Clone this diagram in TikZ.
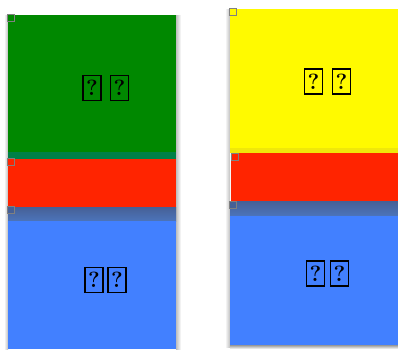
\documentclass[tikz,border=0pt]{standalone}
\usetikzlibrary{shadings}
\definecolor{cgreen}{RGB}{0,136,0}
\definecolor{cteal}{RGB}{0,128,72}
\definecolor{cred}{RGB}{255,36,0}
\definecolor{cblue}{RGB}{66,128,255}
\definecolor{cdarkA}{RGB}{70,96,150}
\definecolor{cdarkB}{RGB}{76,116,186}
\definecolor{cyellow}{RGB}{255,250,0}
\definecolor{clyellow}{RGB}{240,232,10}
\definecolor{cshadow}{RGB}{190,190,190}
\tikzset{
  tofu/.style={draw=black, line width=1.4pt, minimum width=18pt, minimum height=25pt, inner sep=0pt, font=\fontsize{22}{22}\selectfont\bfseries},
  handle/.style={draw=gray, line width=1.5pt, minimum size=7pt, inner sep=0pt},
}
\begin{document}
\begin{tikzpicture}[x=1pt,y=-1pt]
\useasboundingbox (0,0) rectangle (398,349);
% shadows
\shade[left color=white, right color=cshadow] (4,15) rectangle (8,349);
\shade[left color=cshadow, right color=white] (176,15) rectangle (181,349);
\shade[left color=white, right color=cshadow] (225,9) rectangle (230,347);
\shade[top color=cshadow!80!black, bottom color=white] (230,345) rectangle (398,349);
% left column
\fill[cgreen] (8,15) rectangle (176,152);
\fill[cteal] (8,152) rectangle (176,159);
\fill[cred] (8,159) rectangle (176,207);
\shade[top color=cdarkA, bottom color=cdarkB] (8,207) rectangle (176,221);
\fill[cblue] (8,221) rectangle (176,349);
% right column
\fill[cyellow] (230,9) rectangle (398,148);
\fill[clyellow] (230,148) rectangle (398,153);
\fill[cred] (231,153) rectangle (398,201);
\shade[top color=cdarkA, bottom color=cdarkB] (230,201) rectangle (398,216);
\fill[cblue] (230,216) rectangle (398,345);
% handles
\node[handle, fill=cgreen] (h1) at (11,18) {};
\node[handle, fill=cred] (h2) at (11,162) {};
\node[handle, fill=cdarkA] (h3) at (11,210) {};
\node[handle, fill=cyellow] (h4) at (233,12) {};
\node[handle, fill=cred] (h5) at (235,157) {};
\node[handle, fill=cdarkA] (h6) at (233,205) {};
% texts
\node[tofu] (t1) at (92,88) {?};
\node[tofu] (t2) at (119.5,88) {?};
\node[tofu] (t3) at (94,280) {?};
\node[tofu] (t4) at (117,280) {?};
\node[tofu] (t5) at (313.5,81.5) {?};
\node[tofu] (t6) at (341.5,81.5) {?};
\node[tofu] (t7) at (315.5,273.5) {?};
\node[tofu] (t8) at (339.5,273.5) {?};
\end{tikzpicture}
\end{document}
